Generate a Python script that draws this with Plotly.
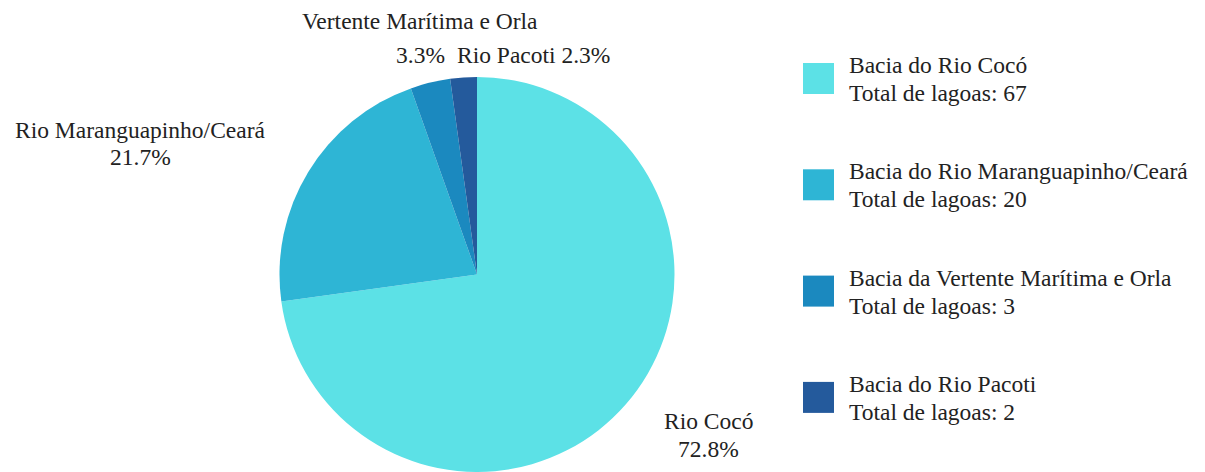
import plotly.graph_objects as go

# Data
slice_labels = ["Rio Cocó", "Rio Maranguapinho/Ceará", "Vertente Marítima e Orla", "Rio Pacoti"]
legend_names = ["Bacia do Rio Cocó", "Bacia do Rio Maranguapinho/Ceará",
                "Bacia da Vertente Marítima e Orla", "Bacia do Rio Pacoti"]
lagoas = [67, 20, 3, 2]
percent_text = ["72.8%", "21.7%", "3.3%", "2.3%"]
colors = ["#5CE1E6", "#2EB5D5", "#1B89BF", "#245A9C"]

W, H = 1205, 472
FONT = "Liberation Serif, Times New Roman, serif"
TXT = "#222222"
FS = 23.5


def px_x(x):
    return x / W


def px_y(y):
    return 1 - y / H


fig = go.Figure()
fig.add_trace(go.Pie(
    labels=slice_labels,
    values=lagoas,
    text=percent_text,
    textinfo="none",
    sort=False,
    direction="clockwise",
    rotation=0,
    marker=dict(colors=colors, line=dict(width=0)),
    showlegend=False,
    hoverinfo="label+value+text",
    domain=dict(x=[(477 - 197.5) / W, (477 + 197.5) / W], y=[0, 1 - 77 / H]),
))

annotations = []


def add_text(txt, x, y_base, anchor="center"):
    annotations.append(dict(xref="paper", yref="paper", x=px_x(x), y=px_y(y_base - 7),
                            xanchor=anchor, yanchor="middle", showarrow=False, text=txt,
                            font=dict(family=FONT, size=FS, color=TXT)))


# Slice labels (label line + percentage line), placed outside the pie
label_pos = [
    # (x_center, baseline line1, baseline line2)
    (708, 428, 456),   # Rio Cocó
    (140, 137, 164),   # Rio Maranguapinho/Ceará
    (420, 28, 62),     # Vertente Marítima e Orla
]
for i, (xc, b1, b2) in enumerate(label_pos):
    add_text(slice_labels[i], xc, b1)
    add_text(percent_text[i], xc, b2)
# Rio Pacoti: single line
add_text(f"{slice_labels[3]} {percent_text[3]}", 533, 62)

# Custom legend (large square swatches, two-line labels)
shapes = []
for i, (name, n, c) in enumerate(zip(legend_names, lagoas, colors)):
    yc = 78.5 + i * 106.3
    shapes.append(dict(type="rect", xref="paper", yref="paper",
                       x0=px_x(803), x1=px_x(834),
                       y0=px_y(yc + 15.5), y1=px_y(yc - 15.5),
                       fillcolor=c, line=dict(width=0)))
    add_text(name, 847, yc - 6.5, anchor="left")
    add_text(f"Total de lagoas: {n}", 847, yc + 21.7, anchor="left")

fig.update_layout(
    width=W, height=H,
    margin=dict(l=0, r=0, t=0, b=0),
    paper_bgcolor="white", plot_bgcolor="white",
    shapes=shapes, annotations=annotations,
    font=dict(family=FONT, size=FS, color=TXT),
)

fig.write_html("out.html", config={"displayModeBar": False},
               post_script="document.body.style.margin='0';")
